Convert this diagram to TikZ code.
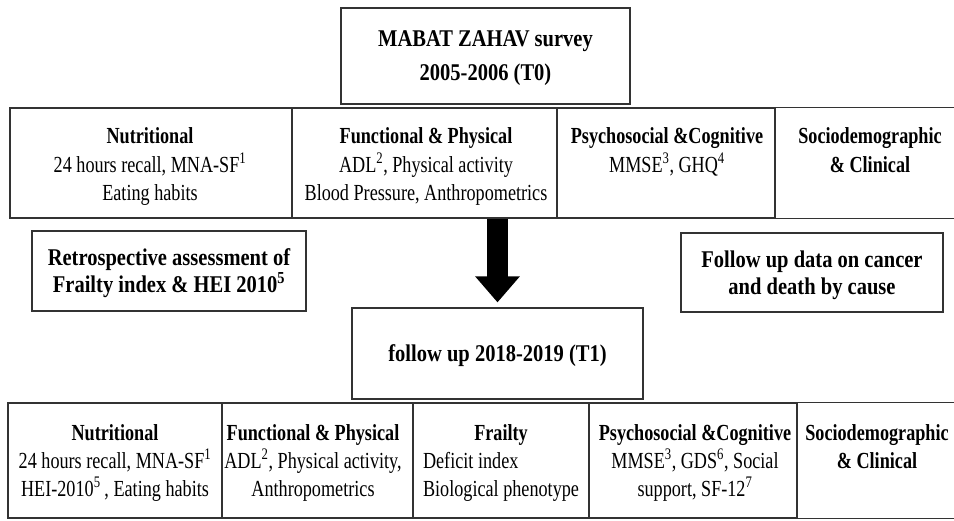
\documentclass[tikz,border=0pt]{standalone}
\usepackage{fontspec}
\usepackage{calc}
\setmainfont{Liberation Serif}[FakeStretch=0.79]
\newfontfamily\bigserif{Liberation Serif}[FakeStretch=0.855]
\usetikzlibrary{arrows.meta}
\definecolor{linec}{HTML}{333333}
\tikzset{
  cellbox/.style={draw=linec, line width=1.2pt, inner sep=0pt, rectangle},
  openbox/.style={draw=none, inner sep=0pt, rectangle},
  toptxt/.style={anchor=north, inner sep=0pt, align=center, font=\fontsize{23}{28.5}\selectfont},
  bottxt/.style={anchor=north, inner sep=0pt, align=center, font=\fontsize{23}{28}\selectfont},
  bigbox/.style={draw=linec, line width=1.2pt, inner sep=0pt, align=center, text depth=0pt, font=\bigserif\bfseries\fontsize{24}{27}\selectfont},
  blockarrow/.style={line width=21pt, draw=black, -{Triangle[width=43pt,length=26pt]}}
}
\begin{document}
\begin{tikzpicture}[x=1pt,y=-1pt]
\useasboundingbox (0,0) rectangle (954,521);
% T0 box
\node[bigbox, minimum width=289pt, minimum height=96pt, font=\bigserif\bfseries\fontsize{24}{34}\selectfont] (t0) at (485.5,56) {MABAT ZAHAV survey\\2005-2006 (T0)};
% top row cells
\node[cellbox, minimum width=282pt, minimum height=110pt] (a1) at (151,163) {};
\node[cellbox, minimum width=265pt, minimum height=110pt] (a2) at (424.5,163) {};
\node[cellbox, minimum width=218pt, minimum height=110pt] (a3) at (666,163) {};
\node[openbox, minimum width=179pt, minimum height=110pt] (a4) at (864.5,163) {};
\draw[draw=linec, line width=1.2pt] (a4.north west) -- (a4.north east) (a4.south west) -- (a4.south east);
\node[toptxt] (a1t) at (150,127.5) {\textbf{Nutritional}\\24 hours recall, MNA-SF\textsuperscript{1}\\Eating habits};
\node[toptxt] (a2t) at (426,127.5) {\textbf{Functional \& Physical}\\ADL\textsuperscript{2}, Physical activity\\Blood Pressure, Anthropometrics};
\node[toptxt] (a3t) at (667,127.5) {\textbf{Psychosocial \&Cognitive}\\MMSE\textsuperscript{3}, GHQ\textsuperscript{4}};
\node[toptxt] (a4t) at (870,127.5) {\textbf{Sociodemographic}\\\textbf{\& Clinical}};
% side boxes
\node[bigbox, minimum width=274pt, minimum height=80pt] (retro) at (169,271) {Retrospective assessment of\\Frailty index \& HEI 2010\textsuperscript{5}};
\node[bigbox, minimum width=262pt, minimum height=79pt] (fud) at (812,272.5) {Follow up data on cancer\\and death by cause};
% T1 box
\node[bigbox, minimum width=291pt, minimum height=91pt] (t1) at (497.5,353.5) {follow up 2018-2019 (T1)};
% arrow
\draw[blockarrow, shorten >=5pt] (a2.south -| t1.north) -- (t1.north);
% bottom row cells
\node[cellbox, minimum width=214pt, minimum height=115pt] (b1) at (115,460.5) {};
\node[cellbox, minimum width=191pt, minimum height=115pt] (b2) at (317.5,460.5) {};
\node[cellbox, minimum width=176pt, minimum height=115pt] (b3) at (501,460.5) {};
\node[cellbox, minimum width=208pt, minimum height=115pt] (b4) at (693,460.5) {};
\node[openbox, minimum width=157pt, minimum height=115pt] (b5) at (875.5,460.5) {};
\draw[draw=linec, line width=1.2pt] (b5.north west) -- (b5.north east) (b5.south west) -- (b5.south east);
\node[bottxt] (b1t) at (115,424.5) {\textbf{Nutritional}\\24 hours recall, MNA-SF\textsuperscript{1}\\HEI-2010\textsuperscript{5}\,, Eating habits};
\node[bottxt] (b2t) at (313,424.5) {\textbf{Functional \& Physical}\\ADL\textsuperscript{2}, Physical activity,\\Anthropometrics};
\node[bottxt, align=left] (b3t) at (501,424.5) {\makebox[\widthof{Biological phenotype}][c]{\textbf{Frailty}}\\Deficit index\\Biological phenotype};
\node[bottxt] (b4t) at (695,424.5) {\textbf{Psychosocial \&Cognitive}\\MMSE\textsuperscript{3}, GDS\textsuperscript{6}, Social\\support, SF-12\textsuperscript{7}};
\node[bottxt] (b5t) at (877,424.5) {\textbf{Sociodemographic}\\\textbf{\& Clinical}};
\end{tikzpicture}
\end{document}
